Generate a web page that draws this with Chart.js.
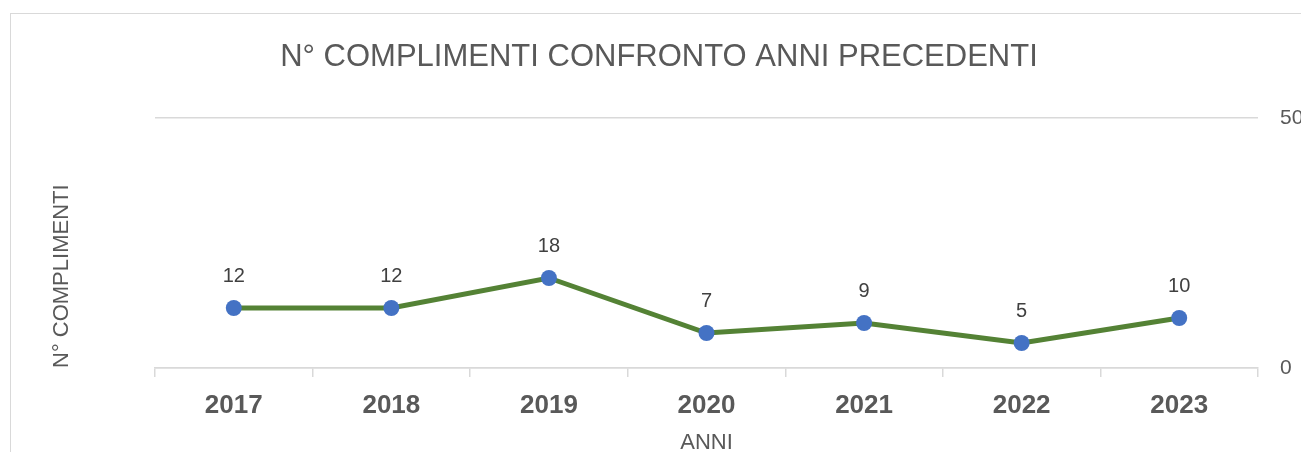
<!DOCTYPE html>
<html>
<head>
<meta charset="utf-8">
<script src="https://cdn.jsdelivr.net/npm/chart.js@4"></script>
<style>
  html, body { margin: 0; padding: 0; width: 1301px; height: 452px; overflow: hidden; background: #ffffff; }
  #frame { position: absolute; left: 10px; top: 13px; width: 1400px; height: 600px; border: 1px solid #d9d9d9; box-sizing: border-box; }
  #c { position: absolute; left: 0; top: 0; }
</style>
</head>
<body>
<div id="frame"></div>
<canvas id="c" width="1318" height="452"></canvas>
<script>
const categories = ['2017', '2018', '2019', '2020', '2021', '2022', '2023'];
const complimenti = [12, 12, 18, 7, 9, 5, 10];
const yTicks = [0, 50];
const chartTitle = 'N° COMPLIMENTI CONFRONTO ANNI PRECEDENTI';
const xTitle = 'ANNI';
const yTitle = 'N° COMPLIMENTI';

const FONT = "'Liberation Sans', Arial, sans-serif";

const dataLabels = {
  id: 'dataLabels',
  afterDatasetsDraw(chart) {
    const ctx = chart.ctx;
    const meta = chart.getDatasetMeta(0);
    const values = chart.data.datasets[0].data;
    ctx.save();
    ctx.font = '20px ' + FONT;
    ctx.fillStyle = '#404040';
    ctx.textAlign = 'center';
    ctx.textBaseline = 'middle';
    meta.data.forEach((pt, i) => {
      ctx.fillText(String(values[i]), pt.x, pt.y - 32);
    });
    ctx.restore();
  }
};

new Chart(document.getElementById('c'), {
  type: 'line',
  data: {
    labels: categories,
    datasets: [{
      data: complimenti,
      yAxisID: 'y',
      borderColor: '#548235',
      borderWidth: 5,
      tension: 0,
      fill: false,
      pointRadius: 8,
      pointHoverRadius: 8,
      pointBackgroundColor: '#4472C4',
      pointBorderColor: '#4472C4',
      pointBorderWidth: 0,
      clip: false
    }]
  },
  options: {
    responsive: false,
    devicePixelRatio: 1,
    animation: false,
    events: [],
    layout: { padding: 0 },
    plugins: {
      legend: { display: false },
      tooltip: { enabled: false },
      title: {
        display: true,
        text: chartTitle,
        color: '#595959',
        font: { family: FONT, size: 31, weight: 'normal', lineHeight: 1.2 },
        padding: { top: 39, bottom: 41.8 }
      }
    },
    scales: {
      x: {
        type: 'category',
        offset: true,
        grid: {
          display: true,
          drawOnChartArea: false,
          drawTicks: true,
          tickLength: 9,
          offset: true,
          color: '#d9d9d9',
          lineWidth: 1.5
        },
        border: { display: true, color: '#d9d9d9', width: 1.5 },
        ticks: {
          color: '#595959',
          padding: 13,
          font: { family: FONT, size: 26, weight: 'bold', lineHeight: 1.2 }
        },
        title: {
          display: true,
          text: xTitle,
          color: '#595959',
          padding: { top: 0, bottom: 0 },
          font: { family: FONT, size: 22, lineHeight: 0.85 }
        },
        afterFit(scale) { scale.height = 84; }
      },
      y: {
        type: 'linear',
        position: 'right',
        min: yTicks[0],
        max: yTicks[yTicks.length - 1],
        afterBuildTicks(scale) { scale.ticks = yTicks.map(v => ({ value: v })); },
        grid: { color: '#d9d9d9', lineWidth: 1.5, drawTicks: false },
        border: { display: false },
        ticks: {
          color: '#595959',
          padding: 22,
          font: { family: FONT, size: 21 }
        },
        afterFit(scale) { scale.width = 60; }
      },
      yL: {
        type: 'linear',
        position: 'left',
        display: true,
        grid: { display: false, drawTicks: false },
        border: { display: false },
        ticks: { display: false },
        title: {
          display: true,
          text: yTitle,
          align: 'start',
          color: '#595959',
          padding: { top: 49, bottom: 0 },
          font: { family: FONT, size: 22, lineHeight: 1.2 }
        },
        afterFit(scale) { scale.width = 155; }
      }
    }
  },
  plugins: [dataLabels]
});
</script>
</body>
</html>
